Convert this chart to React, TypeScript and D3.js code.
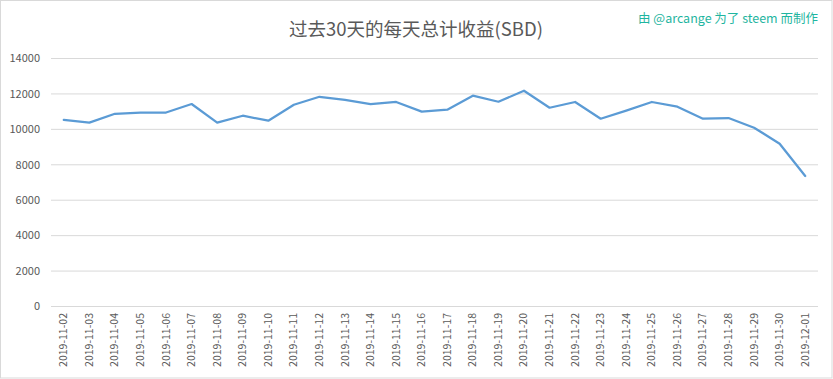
import React from "react";
import * as d3 from "d3";

const dates = [
  "2019-11-02","2019-11-03","2019-11-04","2019-11-05","2019-11-06","2019-11-07","2019-11-08","2019-11-09","2019-11-10","2019-11-11",
  "2019-11-12","2019-11-13","2019-11-14","2019-11-15","2019-11-16","2019-11-17","2019-11-18","2019-11-19","2019-11-20","2019-11-21",
  "2019-11-22","2019-11-23","2019-11-24","2019-11-25","2019-11-26","2019-11-27","2019-11-28","2019-11-29","2019-11-30","2019-12-01",
];
const values = [
  10530, 10380, 10880, 10940, 10950, 11430, 10380, 10770, 10490, 11390,
  11840, 11660, 11430, 11545, 11000, 11110, 11900, 11560, 12180, 11220,
  11545, 10600, 11060, 11545, 11280, 10600, 10640, 10090, 9190, 7370,
];
const yTicks = [0, 2000, 4000, 6000, 8000, 10000, 12000, 14000];
const title = "过去30天的每天总计收益(SBD)";
const watermark = "由 @arcange 为了 steem 而制作";

const W = 833, H = 379;
const left = 51, right = 818, top = 58.5, bottom = 306.5;

export default function App() {
  const x = d3.scaleBand<string>().domain(dates).range([left, right]);
  const y = d3.scaleLinear().domain([0, 14000]).range([bottom, top]);
  const line = d3.line<number>()
    .x((_, i) => (x(dates[i]) as number) + x.bandwidth() / 2)
    .y((d) => y(d));
  const font = "'Noto Sans CJK SC', 'Noto Sans', sans-serif";
  return (
    <svg width={W} height={H} style={{ position: "absolute", left: 0, top: 0, background: "#fff" }} fontFamily={font}>
      <rect x={0.5} y={0.5} width={W - 1.5} height={H - 1.5} fill="#fff" stroke="#d9d9d9" />
      <text x={416} y={36} textAnchor="middle" fontSize={18.5} fill="#595959">{title}</text>
      <text x={818} y={23} textAnchor="end" fontSize={12.5} fill="#1fb5a0">{watermark}</text>
      {yTicks.map((t) => (
        <g key={t}>
          <line x1={left} x2={right} y1={y(t)} y2={y(t)} stroke="#d9d9d9" strokeWidth={1} />
          <text x={40} y={y(t)} dy="0.35em" textAnchor="end" fontSize={11} fill="#595959">{t}</text>
        </g>
      ))}
      {dates.map((d) => {
        const cx = (x(d) as number) + x.bandwidth() / 2;
        return (
          <text key={d} transform={`translate(${cx + 3.5},313) rotate(-90)`} textAnchor="end" fontSize={10.5} fill="#595959">{d}</text>
        );
      })}
      <path d={line(values) || ""} fill="none" stroke="#5b9bd5" strokeWidth={2.25} strokeLinejoin="round" strokeLinecap="round" />
    </svg>
  );
}
